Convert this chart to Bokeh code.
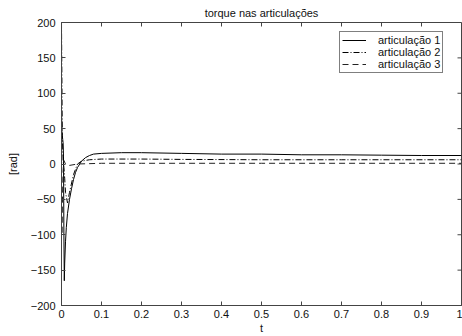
import math
from bokeh.plotting import figure
from bokeh.models import Range1d, FixedTicker, Legend, LegendItem
from bokeh.embed import file_html
from bokeh.resources import INLINE

# ---- data ----
title_text = "torque nas articulações"
x_label = "t"
y_label = "[rad]"
series_names = ["articulação 1", "articulação 2", "articulação 3"]

t1 = [0, 0.001, 0.002, 0.003, 0.004, 0.005, 0.006, 0.007, 0.008, 0.010, 0.012,
      0.015, 0.020, 0.025, 0.030, 0.035, 0.040, 0.050, 0.060, 0.070, 0.080,
      0.10, 0.15, 0.20, 0.30, 0.40, 0.50, 0.60, 0.70, 0.80, 0.90, 1.0]
s1 = [75, 45, 40, 35, 30, 10, -100, -165, -140, -110, -90,
      -70, -50, -35, -22, -12, -5, 4, 9, 12, 14,
      15, 16, 16, 15, 14, 14, 13, 13, 12.5, 12, 12]

t2 = [0, 0.002, 0.004, 0.006, 0.008, 0.010, 0.015, 0.020, 0.030, 0.040,
      0.050, 0.070, 0.10, 0.20, 0.30, 0.50, 0.70, 1.0]
s2 = [200, 40, 5, -5, -20, -40, -55, -40, -15, 0,
      4, 6, 7, 7, 6.5, 6, 6, 6]

t3 = [0, 0.001, 0.002, 0.004, 0.006, 0.010, 0.020, 0.040, 0.10, 0.20, 0.50, 1.0]
s3 = [10, -100, -60, -10, 5, 0, -2, 0, 1, 1, 1, 1]

x_ticks = [0, 0.1, 0.2, 0.3, 0.4, 0.5, 0.6, 0.7, 0.8, 0.9, 1.0]
x_tick_labels = {0: "0", 0.1: "0.1", 0.2: "0.2", 0.3: "0.3", 0.4: "0.4", 0.5: "0.5",
                 0.6: "0.6", 0.7: "0.7", 0.8: "0.8", 0.9: "0.9", 1.0: "1"}
y_ticks = [-200, -150, -100, -50, 0, 50, 100, 150, 200]
x_min, x_max = 0, 1.0
y_min, y_max = -200, 200

FONT = "Liberation Sans"
AXC = "#444444"
TXT = "#111111"

p = figure(width=462, height=336, output_backend="svg", toolbar_location=None,
           x_range=Range1d(x_min, x_max), y_range=Range1d(y_min, y_max),
           min_border_left=61, min_border_right=1, min_border_top=0,
           min_border_bottom=30)
p.background_fill_color = "white"
p.border_fill_color = "white"
p.outline_line_color = AXC
p.grid.visible = False

p.title.text = title_text
p.title.align = "center"
p.title.text_font = FONT
p.title.text_font_size = "11px"
p.title.text_font_style = "normal"
p.title.text_color = TXT
p.title.offset = 0
p.title.standoff = 8


def style_axis(ax):
    ax.axis_line_color = AXC
    ax.major_tick_line_color = AXC
    ax.major_tick_in = 4
    ax.major_tick_out = 0
    ax.minor_tick_line_color = None
    ax.major_label_text_font = FONT
    ax.major_label_text_font_size = "11px"
    ax.major_label_text_color = TXT
    ax.axis_label_text_font = FONT
    ax.axis_label_text_font_style = "normal"
    ax.axis_label_text_font_size = "11px"
    ax.axis_label_text_color = TXT


xa = p.xaxis[0]
xa.ticker = FixedTicker(ticks=x_ticks)
xa.major_label_overrides = x_tick_labels
xa.axis_label = x_label
style_axis(xa)
xa.major_label_standoff = 4
xa.axis_label_standoff = 1

ya = p.yaxis[0]
ya.ticker = FixedTicker(ticks=y_ticks)
ya.axis_label = y_label
style_axis(ya)
ya.major_label_standoff = 6
ya.axis_label_standoff = 9

# inward ticks on the top and right edges of the box (MATLAB style)
p.ray(x=x_ticks, y=[y_max] * len(x_ticks), length=4, length_units="screen",
      angle=-math.pi / 2, line_color=AXC, line_width=1)
p.ray(x=[x_max] * len(y_ticks), y=y_ticks, length=4, length_units="screen",
      angle=math.pi, line_color=AXC, line_width=1)

r1 = p.line(t1, s1, line_color="black", line_width=1)
r2 = p.line(t2, s2, line_color="black", line_width=1, line_dash="6 2 1 2")
r3 = p.line(t3, s3, line_color="#222222", line_width=1, line_dash="6 4")

legend = Legend(items=[LegendItem(label=series_names[0], renderers=[r1]),
                       LegendItem(label=series_names[1], renderers=[r2]),
                       LegendItem(label=series_names[2], renderers=[r3])],
                location=(278, 232))
legend.label_text_font = FONT
legend.label_text_font_size = "11px"
legend.label_text_color = TXT
legend.label_height = 8
legend.glyph_height = 8
legend.glyph_width = 24
legend.spacing = 0
legend.padding = 2
legend.margin = 0
legend.label_standoff = 12
legend.border_line_color = "black"
legend.border_line_width = 1
legend.background_fill_color = "white"
legend.background_fill_alpha = 1
p.add_layout(legend, "center")

open("out.html", "w").write(file_html(p, INLINE))
